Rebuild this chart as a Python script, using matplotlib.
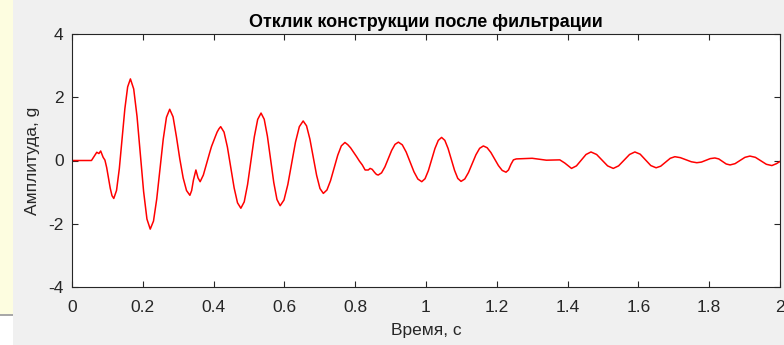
import matplotlib
matplotlib.use("Agg")
import matplotlib.pyplot as plt
from matplotlib.patches import Rectangle
from matplotlib import font_manager

# ---- data ----
time_s = [
    0.000, 0.055, 0.062, 0.070, 0.076, 0.081,
    0.088, 0.093, 0.098, 0.103, 0.108, 0.113,
    0.118, 0.1258, 0.1337, 0.1415, 0.1493, 0.1572,
    0.165, 0.1743, 0.1837, 0.193, 0.2023, 0.2117,
    0.221, 0.2302, 0.2393, 0.2485, 0.2577, 0.2668,
    0.276, 0.2855, 0.295, 0.3045, 0.314, 0.3235,
    0.333, 0.338, 0.343, 0.350, 0.356, 0.362, 0.371,
    0.377, 0.383, 0.389, 0.394, 0.400, 0.405, 0.410, 0.415,
    0.420, 0.4295, 0.439, 0.4485, 0.458, 0.4675,
    0.477, 0.4865, 0.496, 0.5055, 0.515, 0.5245,
    0.534, 0.543, 0.552, 0.561, 0.570, 0.579,
    0.588, 0.5988, 0.6097, 0.6205, 0.6313, 0.6422,
    0.653, 0.6625, 0.672, 0.6815, 0.691, 0.7005,
    0.710, 0.7202, 0.7303, 0.7405, 0.7507, 0.7608,
    0.771, 0.779, 0.787, 0.795, 0.804, 0.812, 0.820, 0.828,
    0.837, 0.842, 0.848, 0.855, 0.860,
    0.865, 0.8745, 0.884, 0.8935, 0.903, 0.9125,
    0.922, 0.933, 0.944, 0.955, 0.966, 0.977,
    0.988, 0.9973, 1.0067, 1.016, 1.0253, 1.0347,
    1.044, 1.0532, 1.0623, 1.0715, 1.0807, 1.0898,
    1.099, 1.1095, 1.120, 1.1305, 1.141, 1.1515,
    1.162, 1.1727, 1.1833, 1.194, 1.2047, 1.2153,
    1.226, 1.233, 1.240, 1.247, 1.255, 1.280, 1.300, 1.340, 1.378, 1.392,
    1.411, 1.425, 1.4385, 1.452,
    1.466, 1.482, 1.4975, 1.513,
    1.529, 1.544, 1.5595, 1.575,
    1.590, 1.605, 1.620, 1.635,
    1.650, 1.663, 1.6765, 1.690,
    1.703, 1.7185, 1.734, 1.7495,
    1.765, 1.778, 1.7905, 1.803,
    1.816, 1.827, 1.8375, 1.848,
    1.859, 1.873, 1.887, 1.901,
    1.915, 1.9305, 1.946, 1.9615,
    1.977, 1.990, 2.000,
]
amplitude_g = [
    0.00, 0.00, 0.12, 0.26, 0.22, 0.30,
    0.10, 0.013, -0.225, -0.55, -0.875, -1.113,
    -1.20, -0.947, -0.255, 0.69, 1.635, 2.327,
    2.58, 2.262, 1.393, 0.205, -0.983, -1.852,
    -2.17, -1.916, -1.2225, -0.275, 0.6725, 1.366,
    1.62, 1.38, 0.75, 0.05, -0.55, -0.95,
    -1.10, -0.95, -0.62, -0.30, -0.55, -0.67, -0.46,
    -0.22, 0.02, 0.25, 0.44, 0.62, 0.76, 0.90, 1.00,
    1.07, 0.897, 0.425, -0.22, -0.865, -1.337,
    -1.51, -1.308, -0.758, -0.005, 0.748, 1.298,
    1.50, 1.304, 0.768, 0.035, -0.698, -1.234,
    -1.43, -1.25, -0.76, -0.09, 0.58, 1.07,
    1.25, 1.097, 0.678, 0.105, -0.468, -0.887,
    -1.04, -0.932, -0.6375, -0.235, 0.1675, 0.462,
    0.57, 0.50, 0.40, 0.27, 0.12, -0.02, -0.14, -0.30,
    -0.30, -0.25, -0.28, -0.38, -0.44,
    -0.46, -0.39, -0.20, 0.06, 0.32, 0.51,
    0.58, 0.496, 0.2675, -0.045, -0.3575, -0.586,
    -0.67, -0.576, -0.32, 0.03, 0.38, 0.636,
    0.73, 0.637, 0.3825, 0.035, -0.3125, -0.567,
    -0.66, -0.585, -0.38, -0.10, 0.18, 0.385,
    0.46, 0.404, 0.2525, 0.045, -0.1625, -0.314,
    -0.37, -0.30, -0.12, 0.02, 0.05, 0.06, 0.07, 0.01, 0.02, -0.08,
    -0.25, -0.17, 0.01, 0.19,
    0.27, 0.19, 0.01, -0.17,
    -0.25, -0.17, 0.01, 0.19,
    0.27, 0.20, 0.02, -0.16,
    -0.23, -0.18, -0.055, 0.07,
    0.12, 0.09, 0.025, -0.04,
    -0.07, -0.05, 0.005, 0.06,
    0.08, 0.05, -0.03, -0.11,
    -0.14, -0.10, 0.00, 0.10,
    0.14, 0.10, -0.01, -0.12,
    -0.16, -0.10, -0.03,
]
x_ticks = [0, 0.2, 0.4, 0.6, 0.8, 1.0, 1.2, 1.4, 1.6, 1.8, 2.0]
x_tick_labels = ["0", "0.2", "0.4", "0.6", "0.8", "1", "1.2", "1.4", "1.6", "1.8", "2"]
y_ticks = [-4, -2, 0, 2, 4]
y_tick_labels = ["-4", "-2", "0", "2", "4"]

title_text = "Отклик конструкции после фильтрации"
x_label = "Время, с"
y_label = "Амплитуда, g"

# ---- fonts ----
installed = {f.name for f in font_manager.fontManager.ttflist}
fam = [f for f in ["Liberation Sans Narrow", "Liberation Sans", "DejaVu Sans"] if f in installed]
plt.rcParams["font.family"] = fam

W, H = 784, 345
fig = plt.figure(figsize=(W / 100, H / 100), dpi=100, facecolor="#f0f0f0")

# left side screenshot artefacts
fig.patches.append(Rectangle((0, (H - 314) / H), 13 / W, 314 / H, transform=fig.transFigure,
                             facecolor="#fdfde0", edgecolor="none", zorder=0))
fig.patches.append(Rectangle((0, 0), 13 / W, (H - 316) / H, transform=fig.transFigure,
                             facecolor="#ffffff", edgecolor="none", zorder=0))
fig.patches.append(Rectangle((0, (H - 316) / H), 13 / W, 2 / H, transform=fig.transFigure,
                             facecolor="#a8a8a8", edgecolor="none", zorder=0))

ax_l, ax_r, ax_t, ax_b = 72, 780, 34, 287
ax = fig.add_axes([ax_l / W, 1 - ax_b / H, (ax_r - ax_l) / W, (ax_b - ax_t) / H])
ax.set_facecolor("white")

ax.plot(time_s, amplitude_g, color="#ff0000", linewidth=1.1)

ax.set_xlim(0, 2)
ax.set_ylim(-4, 4)
ax.set_xticks(x_ticks)
ax.set_xticklabels(x_tick_labels)
ax.set_yticks(y_ticks)
ax.set_yticklabels(y_tick_labels)

tc = "#262626"
ax.tick_params(direction="in", length=4, width=0.8, colors=tc, labelsize=12.5,
               top=True, right=True, labeltop=False, labelright=False)
ax.tick_params(axis="x", pad=9)
ax.tick_params(axis="y", pad=6)
for s in ax.spines.values():
    s.set_color(tc)
    s.set_linewidth(0.8)

ax.set_title(title_text, fontsize=13, fontweight="bold", color="black", pad=5,
             family=["Liberation Sans", "DejaVu Sans"])
ax.set_xlabel(x_label, fontsize=12.5, color=tc, labelpad=6)
ax.set_ylabel(y_label, fontsize=12.5, color=tc, labelpad=6)

fig.savefig("out.png", dpi=100, facecolor=fig.get_facecolor())
